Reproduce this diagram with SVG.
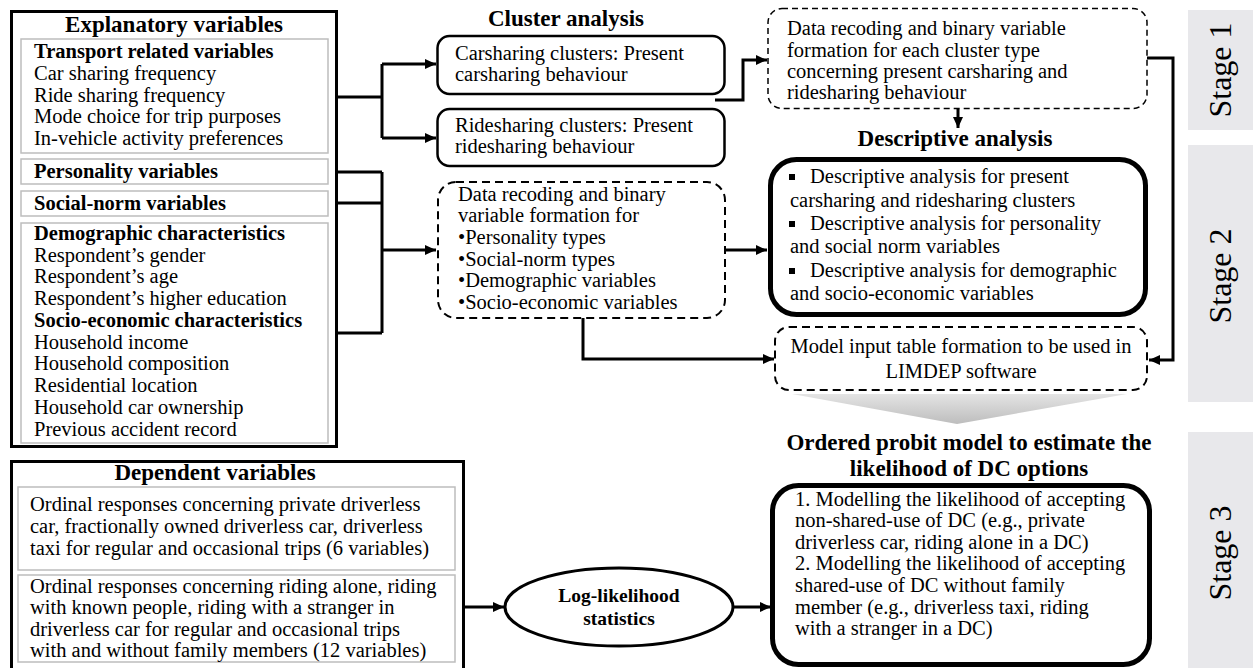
<svg xmlns="http://www.w3.org/2000/svg" width="1255" height="668" viewBox="0 0 1255 668" font-family="'Liberation Serif', 'Times New Roman', serif">
<defs>
<marker id="ah" markerUnits="userSpaceOnUse" markerWidth="12" markerHeight="10" refX="11" refY="5" orient="auto">
<path d="M0,0 L11,5 L0,10 z" fill="#000"/>
</marker>
<linearGradient id="fg" x1="0" y1="0" x2="0" y2="1">
<stop offset="0" stop-color="#e4e4e4"/>
<stop offset="1" stop-color="#bdbdbd"/>
</linearGradient>
<style>
.t{font-family:'Liberation Serif','Times New Roman',serif;font-size:20.5px;fill:#000}
.b{font-family:'Liberation Serif','Times New Roman',serif;font-size:20.5px;font-weight:bold;fill:#000}
.h{font-family:'Liberation Serif','Times New Roman',serif;font-size:23px;font-weight:bold;fill:#000}
.e{font-family:'Liberation Serif','Times New Roman',serif;font-size:19.5px;font-weight:bold;fill:#000}
.stg{font-family:'Liberation Serif','Times New Roman',serif;font-size:32px;fill:#000}
.outer{fill:#fff;stroke:#000;stroke-width:3}
.inner{fill:#fff;stroke:#bdbdbd;stroke-width:1.5}
.rbox{fill:#fff;stroke:#000;stroke-width:2.5}
.thick{fill:#fff;stroke:#000;stroke-width:5}
.dash1{fill:#fff;stroke:#000;stroke-width:1.5;stroke-dasharray:6 4}
.dash2{fill:#fff;stroke:#000;stroke-width:2;stroke-dasharray:8 5}
.con{fill:none;stroke:#000;stroke-width:3}
.stage{fill:#e8e8eb}
</style>
</defs>
<rect width="1255" height="668" fill="#fff"/>

<g id="stages">
<rect class="stage" x="1188" y="10" width="65" height="120"/>
<text class="stg" text-anchor="middle" transform="translate(1231,70) rotate(-90)">Stage 1</text>
<rect class="stage" x="1188" y="145" width="65" height="257"/>
<text class="stg" text-anchor="middle" transform="translate(1231,276) rotate(-90)">Stage 2</text>
<rect class="stage" x="1188" y="432" width="65" height="240"/>
<text class="stg" text-anchor="middle" transform="translate(1231,553) rotate(-90)">Stage 3</text>
</g>

<g id="connectors">
<path class="con" d="M328,97 H382 M382,64 V138"/>
<path class="con" d="M382,64 H436" marker-end="url(#ah)"/>
<path class="con" d="M382,138 H436" marker-end="url(#ah)"/>
<path class="con" d="M328,172 H382 M328,203 H382 M328,333 H382 M382,172 V333"/>
<path class="con" d="M382,250 H436" marker-end="url(#ah)"/>
<path class="con" d="M715,100 H743 V60 H767" marker-end="url(#ah)"/>
<path class="con" d="M958,109 V128" marker-end="url(#ah)"/>
<path class="con" d="M1147,58 H1173 V360 H1149" marker-end="url(#ah)"/>
<path class="con" d="M725,250 H767" marker-end="url(#ah)"/>
<path class="con" d="M583,318 V359 H774" marker-end="url(#ah)"/>
<path class="con" d="M464,607 H504" marker-end="url(#ah)"/>
<path class="con" d="M733,607 H771" marker-end="url(#ah)"/>
<polygon points="792,394 1127,394 957,424" fill="url(#fg)"/>
</g>

<g id="explanatory">
<rect class="outer" x="11.5" y="11.5" width="325" height="435"/>
<text class="h" x="174" y="32" text-anchor="middle">Explanatory variables</text>
<rect class="inner" x="21" y="39" width="307" height="114"/>
<text class="b" x="34" y="58">Transport related variables</text>
<text class="t" x="34" y="80">Car sharing frequency</text>
<text class="t" x="34" y="102">Ride sharing frequency</text>
<text class="t" x="34" y="123">Mode choice for trip purposes</text>
<text class="t" x="34" y="145">In-vehicle activity preferences</text>
<rect class="inner" x="21" y="159" width="307" height="25"/>
<text class="b" x="34" y="178">Personality variables</text>
<rect class="inner" x="21" y="191" width="307" height="25"/>
<text class="b" x="34" y="210">Social-norm variables</text>
<rect class="inner" x="21" y="223" width="307" height="220"/>
<text class="b" x="34" y="240">Demographic characteristics</text>
<text class="t" x="34" y="262">Respondent’s gender</text>
<text class="t" x="34" y="283">Respondent’s age</text>
<text class="t" x="34" y="305">Respondent’s higher education</text>
<text class="b" x="34" y="327">Socio-economic characteristics</text>
<text class="t" x="34" y="349">Household income</text>
<text class="t" x="34" y="370">Household composition</text>
<text class="t" x="34" y="392">Residential location</text>
<text class="t" x="34" y="414">Household car ownership</text>
<text class="t" x="34" y="436">Previous accident record</text>
</g>

<g id="cluster-analysis">
<text class="h" x="566" y="26" text-anchor="middle">Cluster analysis</text>
</g>
<g id="carsharing">
<rect class="rbox" x="437.5" y="36" width="287" height="58" rx="12"/>
<text class="t" x="455" y="60">Carsharing clusters: Present</text>
<text class="t" x="455" y="81">carsharing behaviour</text>
</g>
<g id="ridesharing">
<rect class="rbox" x="437.5" y="109" width="287" height="57" rx="12"/>
<text class="t" x="455" y="132">Ridesharing clusters: Present</text>
<text class="t" x="455" y="153">ridesharing behaviour</text>
</g>

<g id="recoding-clusters">
<rect class="dash1" x="768" y="8.5" width="379" height="100" rx="14"/>
<text class="t" x="787" y="35">Data recoding and binary variable</text>
<text class="t" x="787" y="57">formation for each cluster type</text>
<text class="t" x="787" y="78">concerning present carsharing and</text>
<text class="t" x="787" y="99">ridesharing behaviour</text>
</g>

<g id="recoding-variables">
<rect class="dash2" x="438" y="182" width="287" height="136" rx="18"/>
<text class="t" x="458" y="201">Data recoding and binary</text>
<text class="t" x="458" y="222">variable formation for</text>
<text class="t" x="458" y="244">•Personality types</text>
<text class="t" x="458" y="266">•Social-norm types</text>
<text class="t" x="458" y="287">•Demographic variables</text>
<text class="t" x="458" y="309">•Socio-economic variables</text>
</g>

<g id="descriptive">
<text class="h" x="955" y="146" text-anchor="middle">Descriptive analysis</text>
<rect class="thick" x="770.5" y="159.5" width="375" height="155" rx="26"/>
<rect x="789" y="174" width="6" height="6" fill="#000"/>
<text class="t" x="810" y="183">Descriptive analysis for present</text>
<text class="t" x="790" y="207">carsharing and ridesharing clusters</text>
<rect x="789" y="221" width="6" height="6" fill="#000"/>
<text class="t" x="810" y="230">Descriptive analysis for personality</text>
<text class="t" x="790" y="253">and social norm variables</text>
<rect x="789" y="268" width="6" height="6" fill="#000"/>
<text class="t" x="810" y="277">Descriptive analysis for demographic</text>
<text class="t" x="790" y="300">and socio-economic variables</text>
</g>

<g id="model-input">
<rect class="dash2" x="775" y="327" width="372" height="63" rx="14"/>
<text class="t" x="961" y="353" text-anchor="middle">Model input table formation to be used in</text>
<text class="t" x="961" y="378" text-anchor="middle">LIMDEP software</text>
</g>

<g id="dependent">
<rect class="outer" x="11.5" y="461.5" width="452" height="220"/>
<text class="h" x="215" y="480" text-anchor="middle">Dependent variables</text>
<rect class="inner" x="18" y="487" width="437" height="83"/>
<text class="t" x="30" y="511">Ordinal responses concerning private driverless</text>
<text class="t" x="30" y="533">car, fractionally owned driverless car, driverless</text>
<text class="t" x="30" y="555">taxi for regular and occasional trips (6 variables)</text>
<rect class="inner" x="18" y="575" width="437" height="87"/>
<text class="t" x="30" y="593">Ordinal responses concerning riding alone, riding</text>
<text class="t" x="30" y="614">with known people, riding with a stranger in</text>
<text class="t" x="30" y="636">driverless car for regular and occasional trips</text>
<text class="t" x="30" y="657">with and without family members (12 variables)</text>
</g>

<g id="log-likelihood">
<ellipse cx="619" cy="607" rx="114" ry="39" fill="#fff" stroke="#000" stroke-width="3"/>
<text class="e" x="619" y="602" text-anchor="middle">Log-likelihood</text>
<text class="e" x="619" y="625" text-anchor="middle">statistics</text>
</g>

<g id="ordered-probit">
<text class="h" x="969" y="450" text-anchor="middle">Ordered probit model to estimate the</text>
<text class="h" x="969" y="476" text-anchor="middle">likelihood of DC options</text>
<rect class="thick" x="772.5" y="485.5" width="377" height="179" rx="26"/>
<text class="t" x="795" y="506">1. Modelling the likelihood of accepting</text>
<text class="t" x="795" y="527">non-shared-use of DC (e.g., private</text>
<text class="t" x="795" y="549">driverless car, riding alone in a DC)</text>
<text class="t" x="795" y="570">2. Modelling the likelihood of accepting</text>
<text class="t" x="795" y="592">shared-use of DC without family</text>
<text class="t" x="795" y="614">member (e.g., driverless taxi, riding</text>
<text class="t" x="795" y="635">with a stranger in a DC)</text>
</g>
</svg>
